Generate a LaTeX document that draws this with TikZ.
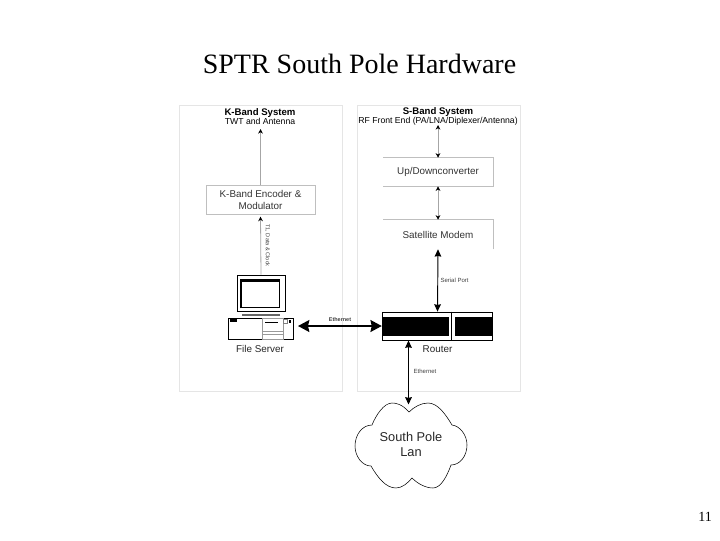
\documentclass[tikz,border=0pt]{standalone}
\usepackage{fontspec}
\setmainfont{Liberation Serif}
\setsansfont{Liberation Sans}
\usetikzlibrary{arrows.meta,positioning}
\definecolor{panelgray}{gray}{0.90}
\definecolor{boxgray}{gray}{0.75}
\definecolor{linegray}{gray}{0.65}

\begin{document}
\begin{tikzpicture}[
    x=0.75pt, y=-0.75pt,
    panel/.style={rectangle, draw=panelgray, minimum width=122.25pt, minimum height=214.5pt},
    stage/.style={rectangle, minimum width=82pt, align=center, font=\sffamily\fontsize{7.4}{9.4}\selectfont, text=black!80},
    heading/.style={align=center, font=\sffamily\fontsize{6.5}{7.3}\selectfont},
    tiny label/.style={font=\sffamily\fontsize{4.5}{5}\selectfont, text=black!75},
    caption/.style={font=\sffamily\fontsize{7.4}{9}\selectfont, text=black!85},
    grayarrow/.style={{Stealth[length=3.5pt,width=3.5pt,color=black]}-{Stealth[length=3.5pt,width=3.5pt,color=black]}, draw=linegray, line width=0.6pt},
    uparrow/.style={-{Stealth[length=3.5pt,width=3.5pt,color=black]}, draw=linegray, line width=0.6pt},
    blackarrow/.style={{Stealth[length=5.5pt,width=5pt,inset=0.5pt]}-{Stealth[length=5.5pt,width=5pt,inset=0.5pt]}, line width=0.7pt},
    bigarrow/.style={{Stealth[length=8.5pt,width=9pt,inset=1pt]}-{Stealth[length=8.5pt,width=9pt,inset=1pt]}, line width=1.1pt},
    solid black/.style={fill=black, draw=none, inner sep=0pt}
]
\useasboundingbox (0,0) rectangle (720,540);

% Title and page number
\node[font=\fontsize{21}{24}\selectfont] (title) at (359.5,64) {SPTR South Pole Hardware};
\node[font=\fontsize{10.5}{12}\selectfont] (pagenum) at (705,517) {11};

% Panels
\node[panel] (kpanel) at (260.5,248) {};
\node[panel] (spanel) at (438.5,248) {};

% K-band column
\node[heading] (ksystem) at (260,116.5) {{\bfseries\fontsize{7.2}{7.3}\selectfont K-Band System}\\TWT and Antenna};
\node[stage, draw=boxgray, minimum height=21pt] (encoder) at (260.5,200) {K-Band Encoder \&\\Modulator};

% S-band column
\node[heading] (ssystem) at (438,116.5) {{\bfseries\fontsize{7.2}{7.3}\selectfont S-Band System}\\RF Front End (PA/LNA/Diplexer/Antenna)};
\node[stage, minimum height=21pt] (updown) at (438,172) {Up/Downconverter};
\node[stage, minimum height=21.75pt] (modem) at (438,234.5) {Satellite Modem};
\draw[boxgray] (updown.north west) -- (updown.north east) -- (updown.south east) -- (updown.south west);
\draw[boxgray] (modem.south east) -- (modem.north east) -- (modem.north west);

% File server
\node[rectangle, draw, line width=0.6pt, minimum width=36pt, minimum height=27pt] (monitor) at (261,293) {};
\draw[black!60, line width=1.5pt] (242,314.5) -- (280,314.5);
\node[rectangle, draw, line width=0.8pt, minimum width=28.5pt, minimum height=20pt, inner sep=0pt] (screen) at (260.5,294.5) {};
\draw[line width=2pt] (screen.south west) -- (screen.north west) -- (screen.north east);
\node[rectangle, draw, line width=0.5pt, minimum width=48.75pt, minimum height=16pt] (server) at (260.5,328.5) {};
\node[rectangle, solid black, minimum width=5.25pt, minimum height=1.6pt] (slot) at (233.5,320.5) {};
\node[rectangle, draw=black!40, line width=0.3pt, minimum width=15.75pt, minimum height=16pt, inner sep=0pt] (drive) at (272.5,328.5) {};
\node[rectangle, solid black, minimum width=10pt, minimum height=1.2pt] (driveslot) at (271.5,322.5) {};
\draw[black!40, line width=0.3pt] (drive.west |- 0,331) -- (drive.east |- 0,331) (drive.west |- 0,334.5) -- (drive.east |- 0,334.5);
\node[rectangle, draw=black!50, line width=0.3pt, minimum width=3pt, minimum height=3pt, inner sep=0pt] (lamp) at (285.5,321.5) {};
\node[rectangle, solid black, minimum width=1.8pt, minimum height=2.4pt] (switch) at (290,321.5) {};
\node[caption] (fileserver) at (260,348.5) {File Server};

% Router
\node[rectangle, draw, line width=0.6pt, minimum width=83pt, minimum height=21pt, inner sep=0pt] (router) at (437.5,326) {};
\node[rectangle, solid black, minimum width=49.5pt, minimum height=14.25pt] (routerleft) at (416,326.5) {};
\node[rectangle, solid black, minimum width=28.5pt, minimum height=14.25pt] (routerright) at (474,326.5) {};
\draw[line width=0.5pt] ([xshift=10.1pt]router.north) -- ([xshift=10.1pt]router.south);
\node[caption] (routerlabel) at (437.5,349) {Router};

% South Pole cloud
\node[align=center, font=\sffamily\fontsize{9.6}{11.3}\selectfont, text=black!85] (lan) at (411,444.5) {South Pole\\Lan};
\coordinate (cloudtop) at (408.5,404.5);
\coordinate (routerport) at (408.5,340.5);
\coordinate (serverport) at (298,326);
\draw[line width=0.4pt] (409,412) .. controls (402,404) and (396,403) .. (392,403)
   .. controls (384,403) and (376,415) .. (372,425)
   .. controls (362,425) and (355,435) .. (355,446)
   .. controls (355,456) and (362,466) .. (371,466)
   .. controls (378,478) and (386,488) .. (396,488)
   .. controls (402,488) and (408,483) .. (412,478)
   .. controls (418,484) and (426,488) .. (433,488)
   .. controls (441,488) and (447,476) .. (451,465)
   .. controls (460,465) and (467,456) .. (467,445)
   .. controls (467,435) and (460,426) .. (452,425)
   .. controls (446,415) and (438,403) .. (428,403)
   .. controls (421,403) and (414,407) .. (409,412) -- cycle;

% Arrows
\draw[uparrow] (encoder.north) -- (260.5,129);
\draw[uparrow] (monitor.north) -- ([yshift=-1.5pt]encoder.south);
\draw[grayarrow] (438,125) -- (updown.north);
\draw[grayarrow] (updown.south) -- (modem.north);
\draw[blackarrow] (modem.south) -- (router.north);
\draw[bigarrow] (serverport) -- (router.west);
\draw[blackarrow] (routerport) -- (cloudtop);

% Connector labels
\node[tiny label, font=\sffamily\fontsize{4.2}{5}\selectfont, rotate=-90] (datalabel) at (267.5,245.5) {T1, Data \& Clock};
\node[tiny label] (seriallabel) at (454.5,280.5) {Serial Port};
\node[tiny label, font=\sffamily\bfseries\fontsize{4.1}{5}\selectfont] (ethlabel) at (340,319.5) {Ethernet};
\node[tiny label] (lanlabel) at (425,371.5) {Ethernet};
\end{tikzpicture}
\end{document}
